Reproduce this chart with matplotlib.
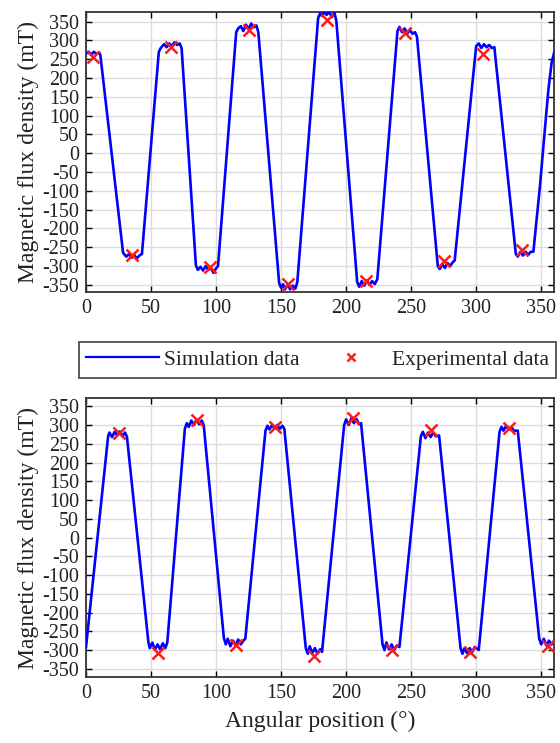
import matplotlib
matplotlib.use("Agg")
import matplotlib.pyplot as plt
from matplotlib.lines import Line2D

# ---- upper panel: simulated waveform (waypoints) ----
TOP_SIM_ANGLE = [
    0, 2, 4, 6, 8, 10, 11,
    28.5, 31, 33, 35, 37, 39, 41, 43,
    56, 57.5, 60, 62, 64, 66, 68, 70, 72, 73.5,
    84.5, 86, 88, 90, 92, 94, 96, 98, 100, 101.5,
    115.5, 117, 119, 121, 123, 125, 127, 129, 131, 132.5,
    148.5, 150, 151.5, 153, 155, 157, 159, 161, 162.5,
    178.5, 180, 181.5, 183, 185, 187, 189, 191, 192.5,
    208.5, 210, 212, 214, 216, 218, 220, 222, 224,
    239.5, 241, 243, 245, 247, 249, 251, 253, 254.5,
    270.5, 272, 274, 276, 278, 280, 282, 283.5,
    300, 302, 304, 306, 308, 310, 312, 314,
    330.5, 332, 334, 336, 338, 340, 342, 344,
    349, 352, 355.5, 358, 360,
]
TOP_SIM_FLUX = [
    265, 270, 262, 270, 264, 268, 262,
    -265, -275, -268, -278, -270, -280, -272, -268,
    270, 280, 290, 282, 292, 285, 295, 288, 292, 280,
    -298, -310, -302, -312, -300, -310, -305, -318, -306, -300,
    322, 332, 338, 325, 342, 330, 345, 335, 340, 322,
    -345, -358, -348, -362, -350, -362, -352, -360, -342,
    360, 372, 365, 376, 368, 376, 362, 374, 352,
    -342, -355, -340, -352, -338, -350, -340, -348, -335,
    325, 336, 322, 332, 318, 328, 318, 322, 310,
    -300, -308, -295, -305, -292, -300, -290, -285,
    285, 292, 280, 290, 282, 288, 280, 282,
    -268, -275, -262, -272, -262, -270, -262, -262,
    -90, 30, 167, 240, 268,
]
TOP_EXP_ANGLE = [5, 35, 65, 95, 125, 155, 185, 215, 245, 275, 305, 335]
TOP_EXP_FLUX = [255, -270, 283, -302, 328, -347, 355, -340, 320, -287, 263, -258]

# ---- lower panel ----
BOT_SIM_ANGLE = [
    0,
    17, 18, 20, 22, 24, 26, 28, 30, 31.5,
    48, 49, 51, 53, 55, 57, 59, 61, 62.5,
    76, 77.5, 79, 81, 83, 85, 87, 89, 90.5,
    106, 107.5, 109, 111, 113, 115, 117, 119, 121, 122.5,
    138, 139.5, 141, 143, 145, 147, 149, 151, 152.5,
    169, 170.5, 172, 174, 176, 178, 180, 181.5,
    198.5, 200, 202, 204, 206, 208, 210, 211.5,
    228, 229.5, 231, 233, 235, 237, 239, 241,
    257.5, 259, 261, 263, 265, 267, 269, 271.5,
    288, 289.5, 291, 293, 295, 297, 299, 302,
    318, 319.5, 321, 323, 325, 327, 329, 332,
    348.5, 350, 352, 354, 356, 358, 360,
]
BOT_SIM_FLUX = [
    -292,
    270, 280, 268, 282, 272, 283, 270, 280, 268,
    -280, -295, -280, -300, -285, -298, -282, -295, -280,
    290, 305, 295, 312, 300, 315, 302, 312, 300,
    -268, -285, -270, -290, -275, -288, -272, -285, -275, -270,
    285, 298, 288, 300, 290, 300, 290, 298, 290,
    -295, -310, -290, -308, -295, -310, -298, -305,
    300, 315, 300, 318, 305, 316, 302, 305,
    -285, -300, -280, -298, -285, -300, -288, -292,
    270, 282, 265, 280, 268, 280, 270, 272,
    -295, -310, -295, -308, -295, -305, -292, -300,
    282, 295, 285, 298, 288, 295, 285, 285,
    -270, -285, -270, -288, -275, -285, -275,
]
BOT_EXP_ANGLE = [25, 55, 85, 115, 145, 175, 205, 235, 265, 295, 325, 355]
BOT_EXP_FLUX = [278, -308, 314, -287, 294, -316, 320, -300, 286, -304, 293, -290]

X_TICKS = list(range(0, 351, 50))
Y_TICKS = list(range(-350, 351, 50))

plt.rcParams["font.family"] = ["Liberation Serif", "DejaVu Serif"]
plt.rcParams["axes.unicode_minus"] = False

TEXT_COLOR = "#222222"
LINE_BLUE = "#0000ff"
CROSS_RED = "#ff1a1a"


def draw_panel(ax, sim_x, sim_y, exp_x, exp_y, ylim):
    ax.plot(sim_x, sim_y, "-", color=LINE_BLUE, linewidth=1.9, zorder=3)
    ax.plot(exp_x, exp_y, "x", color=CROSS_RED, markersize=8, markeredgewidth=1.8, zorder=4)
    ax.set_xlim(0, 360)
    ax.set_ylim(*ylim)
    ax.set_xticks(X_TICKS)
    ax.set_yticks(Y_TICKS)
    ax.grid(True, color="#dcdcdc", linewidth=1.0, zorder=0)
    ax.tick_params(direction="in", top=True, right=True, length=4, width=1.0,
                   labelsize=14.5, labelcolor=TEXT_COLOR, pad=5)
    for spine in ax.spines.values():
        spine.set_linewidth(1.3)
        spine.set_color("#333333")
    ax.set_ylabel("Magnetic flux density (mT)", fontsize=17, color=TEXT_COLOR, labelpad=2)


fig = plt.figure(figsize=(5.6, 7.43), dpi=100)
ax_top = fig.add_axes([0.1536, 0.607, 0.836, 0.377])
ax_bot = fig.add_axes([0.1536, 0.0888, 0.836, 0.3755])

draw_panel(ax_top, TOP_SIM_ANGLE, TOP_SIM_FLUX, TOP_EXP_ANGLE, TOP_EXP_FLUX, (-369, 376))
draw_panel(ax_bot, BOT_SIM_ANGLE, BOT_SIM_FLUX, BOT_EXP_ANGLE, BOT_EXP_FLUX, (-372, 372))
ax_bot.set_xlabel("Angular position (°)", fontsize=17, color=TEXT_COLOR, labelpad=6)

handles = [
    Line2D([], [], color=LINE_BLUE, linewidth=1.6),
    Line2D([], [], color=CROSS_RED, marker="x", linestyle="none", markersize=6, markeredgewidth=1.8),
]
leg = fig.legend(handles, ["Simulation data", "Experimental data"], ncol=2,
                 loc="center", bbox_to_anchor=(0.567, 0.5155), fontsize=15.5,
                 frameon=True, fancybox=False, edgecolor="#222222",
                 handlelength=3.4, handletextpad=0.2, columnspacing=0.7, borderpad=0.35)
leg.get_frame().set_linewidth(1.3)
for t in leg.get_texts():
    t.set_color(TEXT_COLOR)

fig.savefig("out.png", dpi=100)
